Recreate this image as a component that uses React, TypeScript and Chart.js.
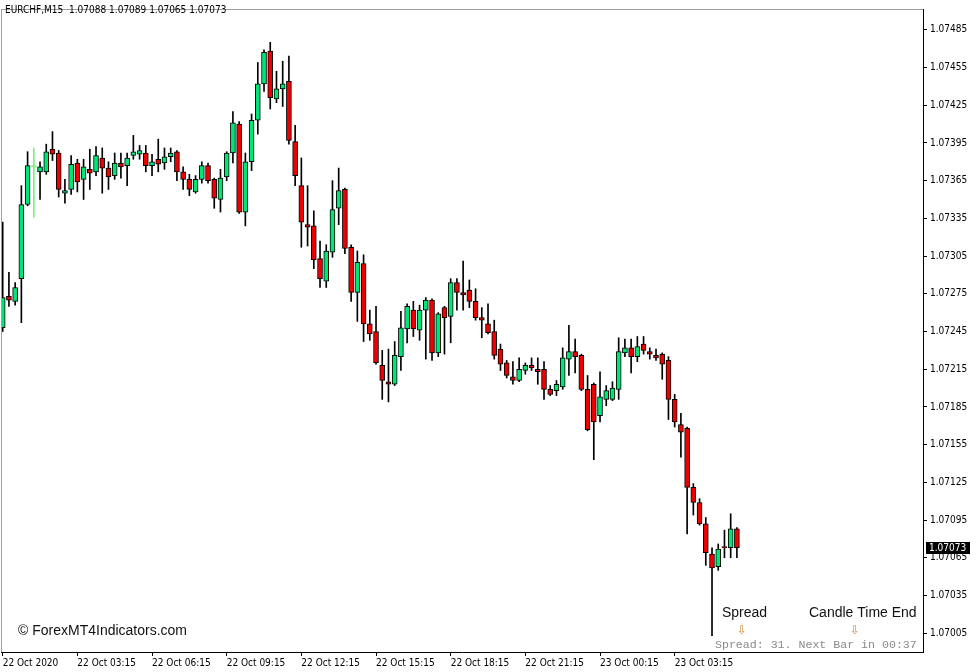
import React, { useEffect, useRef } from "react";
import { Chart, registerables } from "chart.js";
Chart.register(...registerables);

const symbolTitle = "EURCHF,M15";
const opens = [
  1.07248,1.07273,1.07269,1.07287,1.07346,1.07376,1.07372,1.07372,1.07390,1.07387,
  1.07355,1.07358,1.07379,1.07366,1.07374,1.07372,1.07383,1.07375,1.07369,1.07379,
  1.07377,1.07385,1.07386,1.07387,1.07377,1.07382,1.07379,1.07384,1.07388,1.07372,
  1.07366,1.07356,1.07366,1.07377,1.07366,1.07350,1.07368,1.07387,1.07410,1.07340,
  1.07380,1.07413,1.07442,1.07468,1.07430,1.07438,1.07444,1.07396,1.07361,1.07330,
  1.07329,1.07303,1.07285,1.07308,1.07343,1.07358,1.07312,1.07276,1.07299,1.07251,
  1.07245,1.07218,1.07205,1.07203,1.07225,1.07247,1.07262,1.07246,1.07262,1.07270,
  1.07228,1.07264,1.07257,1.07284,1.07276,1.07278,1.07269,1.07256,1.07251,1.07245,
  1.07231,1.07220,1.07209,1.07206,1.07214,1.07218,1.07215,1.07215,1.07199,1.07198,
  1.07201,1.07223,1.07229,1.07226,1.07199,1.07203,1.07178,1.07191,1.07191,1.07199,
  1.07228,1.07232,1.07225,1.07235,1.07229,1.07226,1.07227,1.07222,1.07191,1.07171,
  1.07168,1.07121,1.07109,1.07092,1.07068,1.07058,1.07074,1.07073,1.07088,
];
const highs = [
  1.07332,1.07292,1.07284,1.07361,1.07388,1.07391,1.07380,1.07394,1.07404,1.07389,
  1.07366,1.07385,1.07382,1.07382,1.07390,1.07392,1.07391,1.07380,1.07387,1.07387,
  1.07387,1.07401,1.07393,1.07393,1.07386,1.07398,1.07391,1.07391,1.07389,1.07376,
  1.07370,1.07369,1.07380,1.07379,1.07367,1.07374,1.07388,1.07420,1.07412,1.07387,
  1.07418,1.07459,1.07469,1.07475,1.07452,1.07460,1.07464,1.07409,1.07383,1.07361,
  1.07341,1.07317,1.07314,1.07365,1.07375,1.07359,1.07314,1.07309,1.07306,1.07262,
  1.07265,1.07230,1.07231,1.07237,1.07261,1.07267,1.07269,1.07266,1.07272,1.07271,
  1.07260,1.07265,1.07287,1.07287,1.07301,1.07286,1.07279,1.07264,1.07267,1.07254,
  1.07235,1.07222,1.07221,1.07224,1.07220,1.07224,1.07224,1.07221,1.07202,1.07206,
  1.07232,1.07250,1.07239,1.07227,1.07210,1.07204,1.07213,1.07202,1.07205,1.07240,
  1.07239,1.07239,1.07241,1.07241,1.07232,1.07231,1.07228,1.07225,1.07195,1.07180,
  1.07169,1.07124,1.07112,1.07097,1.07073,1.07076,1.07087,1.07100,1.07089,
];
const lows = [
  1.07245,1.07265,1.07266,1.07252,1.07345,1.07336,1.07350,1.07370,1.07381,1.07352,
  1.07347,1.07354,1.07356,1.07350,1.07358,1.07369,1.07355,1.07358,1.07366,1.07367,
  1.07361,1.07382,1.07382,1.07372,1.07369,1.07372,1.07374,1.07380,1.07365,1.07358,
  1.07353,1.07355,1.07363,1.07363,1.07343,1.07340,1.07365,1.07379,1.07339,1.07329,
  1.07373,1.07402,1.07436,1.07422,1.07427,1.07424,1.07394,1.07361,1.07312,1.07313,
  1.07295,1.07280,1.07280,1.07304,1.07330,1.07307,1.07269,1.07253,1.07237,1.07238,
  1.07219,1.07191,1.07189,1.07202,1.07214,1.07236,1.07241,1.07238,1.07223,1.07222,
  1.07225,1.07227,1.07236,1.07262,1.07262,1.07264,1.07254,1.07240,1.07243,1.07223,
  1.07214,1.07208,1.07203,1.07205,1.07211,1.07214,1.07203,1.07191,1.07194,1.07194,
  1.07199,1.07210,1.07212,1.07198,1.07166,1.07143,1.07173,1.07186,1.07190,1.07191,
  1.07225,1.07212,1.07221,1.07227,1.07223,1.07222,1.07207,1.07175,1.07169,1.07145,
  1.07084,1.07099,1.07091,1.07059,1.07003,1.07055,1.07065,1.07065,1.07065,
];
const closes = [
  1.07272,1.07270,1.07280,1.07346,1.07377,1.07376,1.07376,1.07388,1.07386,1.07358,
  1.07357,1.07378,1.07364,1.07376,1.07371,1.07385,1.07375,1.07368,1.07379,1.07376,
  1.07383,1.07388,1.07389,1.07377,1.07380,1.07378,1.07384,1.07387,1.07372,1.07366,
  1.07358,1.07366,1.07377,1.07365,1.07351,1.07367,1.07387,1.07411,1.07340,1.07380,
  1.07413,1.07442,1.07467,1.07431,1.07438,1.07442,1.07397,1.07369,1.07332,1.07328,
  1.07302,1.07287,1.07309,1.07342,1.07357,1.07311,1.07276,1.07300,1.07251,1.07243,
  1.07220,1.07206,1.07203,1.07226,1.07248,1.07265,1.07247,1.07262,1.07270,1.07228,
  1.07259,1.07256,1.07284,1.07276,1.07274,1.07269,1.07256,1.07254,1.07244,1.07226,
  1.07219,1.07210,1.07206,1.07215,1.07218,1.07216,1.07213,1.07199,1.07195,1.07203,
  1.07224,1.07229,1.07225,1.07199,1.07167,1.07173,1.07193,1.07198,1.07200,1.07229,
  1.07232,1.07225,1.07233,1.07230,1.07227,1.07224,1.07219,1.07191,1.07173,1.07165,
  1.07121,1.07109,1.07092,1.07069,1.07057,1.07072,1.07073,1.07088,1.07073,
];
const xTickBars = [0, 12, 24, 36, 48, 60, 72, 84, 96, 108];
const xTickLabels = [
  "22 Oct 2020", "22 Oct 03:15", "22 Oct 06:15", "22 Oct 09:15", "22 Oct 12:15",
  "22 Oct 15:15", "22 Oct 18:15", "22 Oct 21:15", "23 Oct 00:15", "23 Oct 03:15",
];
const yTickValues = [
  1.07005, 1.07035, 1.07065, 1.07095, 1.07125, 1.07155, 1.07185, 1.07215, 1.07245,
  1.07275, 1.07305, 1.07335, 1.07365, 1.07395, 1.07425, 1.07455, 1.07485,
];
const spreadPoints = 31;
const nextBarIn = "00:37";
const watermark = "\u00A9 ForexMT4Indicators.com";

const AXIS_FONT = "'DejaVu Sans Condensed', 'DejaVu Sans', sans-serif";
const GREEN = "#00e676";
const RED = "#ee0000";
const DOJI = "#7cf07c";

export default function App() {
  const ref = useRef<HTMLCanvasElement>(null);
  useEffect(() => {
    document.body.style.margin = "0";
    const idx = opens.map((_, i) => i);
    const isDoji = (i: number) => opens[i] === closes[i];
    const last = closes.length - 1;

    const overlay = {
      id: "overlay",
      afterDraw(chart: any) {
        const { ctx, chartArea } = chart;
        const ys = chart.scales.y;
        ctx.save();
        ctx.strokeStyle = "#a0a0a0";
        ctx.lineWidth = 1;
        ctx.beginPath();
        ctx.moveTo(chartArea.left, chartArea.top + 0.5);
        ctx.lineTo(chartArea.right, chartArea.top + 0.5);
        ctx.moveTo(chartArea.left + 0.5, chartArea.top);
        ctx.lineTo(chartArea.left + 0.5, chartArea.bottom);
        ctx.stroke();
        ctx.fillStyle = "#000";
        ctx.textBaseline = "middle";
        ctx.textAlign = "left";
        ctx.font = `10px ${AXIS_FONT}`;
        const hdr = `${symbolTitle}  ${opens[last].toFixed(5)} ${highs[last].toFixed(5)} ${lows[last].toFixed(5)} ${closes[last].toFixed(5)}`;
        ctx.fillText(hdr, 5, 10);
        ctx.font = "14px 'Liberation Sans', Arial, sans-serif";
        ctx.fillStyle = "#111";
        ctx.fillText(watermark, 18, 631);
        ctx.fillText("Spread", 722, 613);
        ctx.fillText("Candle Time End", 809, 613);
        ctx.font = "12px 'DejaVu Sans', sans-serif";
        ctx.fillStyle = "#c8883a";
        ctx.textAlign = "center";
        ctx.fillText("\u21E9", 742, 631);
        ctx.fillText("\u21E9", 855, 631);
        ctx.textAlign = "left";
        ctx.font = "11.6px 'Liberation Mono', 'Courier New', monospace";
        ctx.fillStyle = "#8a8a8a";
        ctx.fillText(`Spread: ${spreadPoints}. Next Bar in ${nextBarIn}`, 715, 645);
        const py = Math.round(ys.getPixelForValue(closes[last]));
        ctx.fillStyle = "#000";
        ctx.fillRect(chartArea.right + 3, py - 6, 44, 12);
        ctx.fillStyle = "#fff";
        ctx.font = `10px ${AXIS_FONT}`;
        ctx.fillText(closes[last].toFixed(5), chartArea.right + 6, py + 0.5);
        ctx.restore();
      },
    };

    const chart = new Chart(ref.current!, {
      type: "bar",
      data: {
        datasets: [
          {
            data: idx.map((i) => ({ x: i, y: [opens[i], closes[i]] })) as any,
            backgroundColor: idx.map((i) => (isDoji(i) ? DOJI : closes[i] > opens[i] ? GREEN : RED)),
            borderColor: idx.map((i) => (isDoji(i) ? DOJI : "#000")),
            borderWidth: idx.map((i) => (isDoji(i) ? 0 : 1)),
            borderSkipped: false,
            barThickness: 5,
            minBarLength: 1,
            grouped: false,
            order: 1,
          } as any,
          {
            data: idx.map((i) => ({ x: i, y: [lows[i], highs[i]] })) as any,
            backgroundColor: idx.map((i) => (isDoji(i) ? DOJI : "#000")),
            borderWidth: 0,
            barThickness: 1,
            grouped: false,
            order: 2,
          } as any,
        ],
      },
      options: {
        animation: false,
        responsive: false,
        maintainAspectRatio: false,
        layout: { padding: { left: 1, top: 2, right: 0, bottom: 0 } },
        plugins: { legend: { display: false }, tooltip: { enabled: false } },
        scales: {
          x: {
            type: "linear",
            offset: false,
            min: -0.273,
            max: 147.91,
            afterBuildTicks: (s: any) => {
              s.ticks = xTickBars.map((v) => ({ value: v }));
            },
            afterFit: (s: any) => {
              s.height = 20;
              s.paddingLeft = 0;
              s.paddingRight = 0;
            },
            grid: { offset: false, drawOnChartArea: false, drawTicks: true, tickLength: 4, color: "#000" },
            border: { display: true, color: "#000" },
            ticks: {
              autoSkip: false,
              maxRotation: 0,
              align: "start",
              padding: 1,
              color: "#000",
              font: { family: AXIS_FONT, size: 10 },
              callback: (v: any) => {
                const k = xTickBars.indexOf(Number(v));
                return k >= 0 ? xTickLabels[k] : "";
              },
            },
          },
          y: {
            position: "right",
            min: 1.0699005,
            max: 1.0750153,
            afterBuildTicks: (s: any) => {
              s.ticks = yTickValues.map((v) => ({ value: v }));
            },
            afterFit: (s: any) => {
              s.width = 54;
            },
            grid: { drawOnChartArea: false, drawTicks: true, tickLength: 4, color: "#000" },
            border: { display: true, color: "#000" },
            ticks: {
              padding: 3,
              color: "#000",
              font: { family: AXIS_FONT, size: 10 },
              callback: (v: any) => Number(v).toFixed(5),
            },
          },
        },
      },
      plugins: [overlay],
    } as any);
    return () => chart.destroy();
  }, []);
  return (
    <canvas
      ref={ref}
      width={977}
      height={672}
      style={{ display: "block", width: 977, height: 672, background: "#fff" }}
    />
  );
}
